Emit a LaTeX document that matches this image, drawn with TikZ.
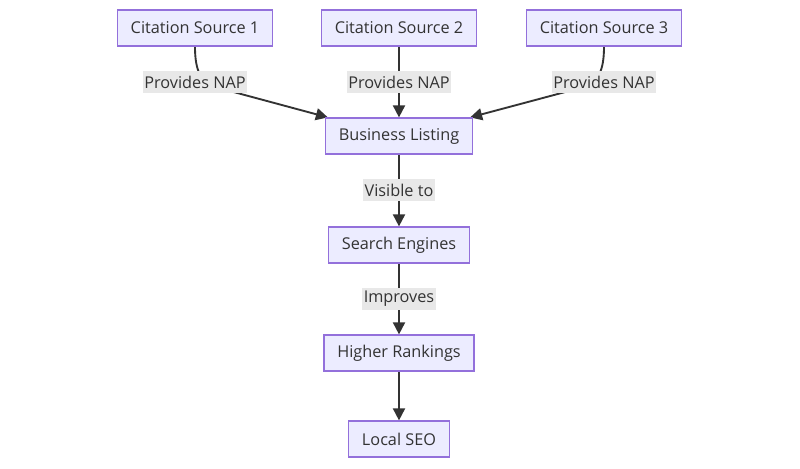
\documentclass[tikz,border=0pt]{standalone}
\usepackage{fontspec}
\setmainfont{Open Sans}
\usepackage{xcolor}
\usepackage{tikz}
\usetikzlibrary{positioning, calc, arrows.meta, backgrounds}
\definecolor{boxfill}{HTML}{ECECFF}
\definecolor{boxline}{HTML}{9370DB}
\definecolor{edgegray}{HTML}{333333}
\definecolor{labelgray}{HTML}{E8E8E8}
\definecolor{textgray}{HTML}{333333}
\tikzset{
    flowbox/.style={
        draw=boxline, fill=boxfill, line width=0.9pt, minimum height=27pt,
        inner xsep=10pt, font=\fontsize{12.2}{14}\selectfont, text=textgray
    },
    edgelabel/.style={
        fill=labelgray, inner xsep=1pt, inner ysep=0pt, minimum height=16.5pt,
        font=\fontsize{12.2}{14}\selectfont, text=textgray
    },
    flow/.style={
        draw=edgegray, line width=1.4pt, -{Triangle[length=9pt, width=9pt]}
    }
}

\begin{document}
\begin{tikzpicture}[x=0.75pt, y=0.75pt]
        \useasboundingbox (0,0) rectangle (800,-468);

        % ======================================
        % NGUON TRICH DAN (HANG TREN)
        % ======================================
        \node[flowbox] (cs1) at (195,-28) {Citation Source 1};
        \node[flowbox] (cs2) at (399,-28) {Citation Source 2};
        \node[flowbox] (cs3) at (604,-28) {Citation Source 3};

        % ======================================
        % CHUOI CHINH
        % ======================================
        \node[flowbox] (bl) at (399,-136) {Business Listing};
        \node[flowbox] (se) at (399,-245) {Search Engines};
        \node[flowbox] (hr) at (399,-353) {Higher Rankings};
        \node[flowbox] (ls) at (399,-439) {Local SEO};

        % Nhan tren canh
        \node[edgelabel] (nap1) at (195,-82) {Provides NAP};
        \node[edgelabel] (nap2) at (399,-82) {Provides NAP};
        \node[edgelabel] (nap3) at (604,-82) {Provides NAP};
        \node[edgelabel] (vis) at (399,-190) {Visible to};
        \node[edgelabel] (imp) at (399,-299) {Improves};

        % diem gap khuc cua canh cong
        \coordinate (k1) at (215,-87);
        \coordinate (k3) at (584,-87);
        \coordinate (bl1) at ($(bl.north west)!0.02!(bl.north east)$);
        \coordinate (bl3) at ($(bl.north east)!0.02!(bl.north west)$);

        % ======================================
        % MUI TEN (DUOI NHAN)
        % ======================================
        \begin{scope}[on background layer]
            \draw[flow] (cs1.south) to[out=-90, in=165] (k1) -- (bl1);
            \draw[flow] (cs2) -- (bl);
            \draw[flow] (cs3.south) to[out=-90, in=15] (k3) -- (bl3);
            \draw[flow] (bl) -- (se);
            \draw[flow] (se) -- (hr);
            \draw[flow] (hr) -- (ls);
        \end{scope}

    \end{tikzpicture}
\end{document}
